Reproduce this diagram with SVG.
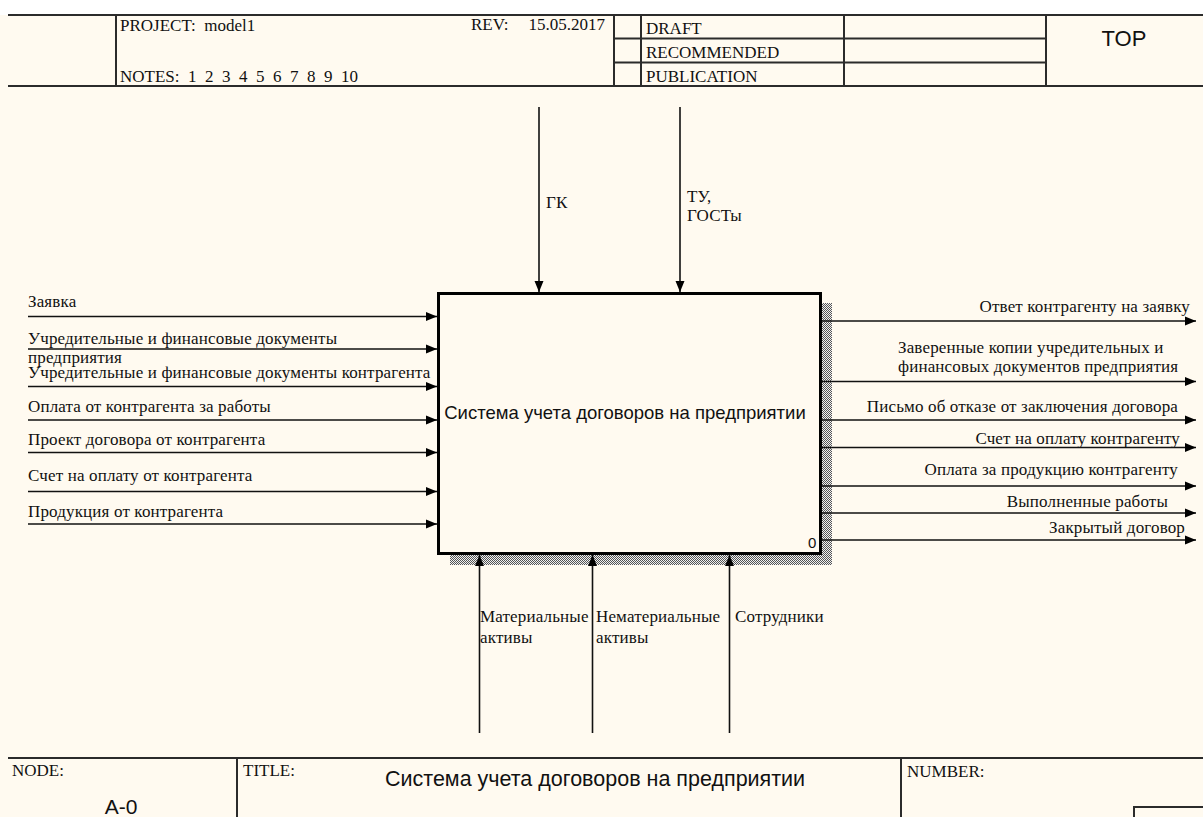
<svg xmlns="http://www.w3.org/2000/svg" width="1203" height="817" viewBox="0 0 1203 817">
  <style>
    .frame { stroke: #2b2b2b; stroke-width: 2; fill: none; }
    .hdr { font-family: "Liberation Serif", "Times New Roman", serif; font-size: 17px; fill: #111; white-space: pre; }
    .lbl { font-family: "Liberation Serif", "Times New Roman", serif; font-size: 17px; letter-spacing: 0.15px; fill: #111; }
    .sans { font-family: "Liberation Sans", Arial, sans-serif; fill: #111; }
    .arrow { stroke: #111; stroke-width: 1.6; fill: none; marker-end: url(#head); }
  </style>
  <defs>
    <marker id="head" markerUnits="userSpaceOnUse" markerWidth="12" markerHeight="10" refX="11" refY="5" orient="auto">
      <path d="M0,0.5 L11,5 L0,9.5 z" fill="#000"/>
    </marker>
    <pattern id="dither" width="2" height="2" patternUnits="userSpaceOnUse">
      <rect width="2" height="2" fill="#f0f0f0"/>
      <rect width="1" height="1" fill="#555"/>
      <rect x="1" y="1" width="1" height="1" fill="#555"/>
    </pattern>
  </defs>

  <!-- page -->
  <rect width="1203" height="817" fill="#ffffff"/>
  <rect x="0" y="15" width="1203" height="802" fill="#fffaf0"/>

  <!-- header block -->
  <g id="header">
    <line class="frame" x1="8" y1="15" x2="1203" y2="15"/>
    <line class="frame" x1="8" y1="86" x2="1203" y2="86"/>
    <line class="frame" x1="116" y1="15" x2="116" y2="86"/>
    <line class="frame" x1="614" y1="15" x2="614" y2="86"/>
    <line class="frame" x1="641" y1="15" x2="641" y2="86"/>
    <line class="frame" x1="844" y1="15" x2="844" y2="86"/>
    <line class="frame" x1="1046" y1="15" x2="1046" y2="86"/>
    <line class="frame" x1="614" y1="38.5" x2="1046" y2="38.5"/>
    <line class="frame" x1="614" y1="62.5" x2="1046" y2="62.5"/>
    <text class="hdr" x="120" y="31" xml:space="preserve">PROJECT:  model1</text>
    <text class="hdr" x="120" y="82" xml:space="preserve">NOTES:  1  2  3  4  5  6  7  8  9  10</text>
    <text class="hdr" x="471" y="30">REV:</text>
    <text class="hdr" x="605" y="30" text-anchor="end">15.05.2017</text>
    <text class="hdr" x="646" y="34">DRAFT</text>
    <text class="hdr" x="646" y="57.5">RECOMMENDED</text>
    <text class="hdr" x="646" y="81.5">PUBLICATION</text>
    <text class="sans" x="1124" y="46" font-size="22" text-anchor="middle">TOP</text>
  </g>

  <!-- activity box A0 -->
  <g id="node-a0">
    <rect x="822" y="303" width="10" height="262" fill="url(#dither)"/>
    <rect x="450" y="555" width="382" height="10" fill="url(#dither)"/>
    <rect x="438.5" y="293.5" width="382" height="260" fill="#fffaf0" stroke="#000" stroke-width="3"/>
    <text class="sans" x="625" y="419" font-size="18.5" text-anchor="middle">Система учета договоров на предприятии</text>
    <text class="sans" x="808" y="548" font-size="15">0</text>
  </g>

  <!-- arrows -->
  <g id="connectors">
    <!-- inputs -->
    <line class="arrow" x1="28" y1="316.5" x2="437" y2="316.5"/>
    <line class="arrow" x1="28" y1="349" x2="437" y2="349"/>
    <line class="arrow" x1="28" y1="386.5" x2="437" y2="386.5"/>
    <line class="arrow" x1="28" y1="420" x2="437" y2="420"/>
    <line class="arrow" x1="28" y1="452.5" x2="437" y2="452.5"/>
    <line class="arrow" x1="28" y1="491.5" x2="437" y2="491.5"/>
    <line class="arrow" x1="28" y1="524" x2="437" y2="524"/>
    <!-- controls -->
    <line class="arrow" x1="539" y1="107" x2="539" y2="292"/>
    <line class="arrow" x1="680" y1="107" x2="680" y2="292"/>
    <!-- outputs -->
    <line class="arrow" x1="822" y1="321" x2="1196" y2="321"/>
    <line class="arrow" x1="822" y1="381.5" x2="1196" y2="381.5"/>
    <line class="arrow" x1="822" y1="420" x2="1196" y2="420"/>
    <line class="arrow" x1="822" y1="447.5" x2="1196" y2="447.5"/>
    <line class="arrow" x1="822" y1="486" x2="1196" y2="486"/>
    <line class="arrow" x1="822" y1="513" x2="1196" y2="513"/>
    <line class="arrow" x1="822" y1="540" x2="1196" y2="540"/>
    <!-- mechanisms -->
    <line class="arrow" x1="479.5" y1="733" x2="479.5" y2="555"/>
    <line class="arrow" x1="592.5" y1="733" x2="592.5" y2="555"/>
    <line class="arrow" x1="729.5" y1="733" x2="729.5" y2="555"/>
  </g>

  <!-- arrow labels -->
  <g id="labels">
    <text class="lbl" x="28" y="306.5">Заявка</text>
    <text class="lbl" x="28" y="344">Учредительные и финансовые документы</text>
    <text class="lbl" x="28" y="362.5">предприятия</text>
    <text class="lbl" x="28" y="378">Учредительные и финансовые документы контрагента</text>
    <text class="lbl" x="28" y="411.5">Оплата от контрагента за работы</text>
    <text class="lbl" x="28" y="445">Проект договора от контрагента</text>
    <text class="lbl" x="28" y="481">Счет на оплату от контрагента</text>
    <text class="lbl" x="28" y="516.5">Продукция от контрагента</text>

    <text class="lbl" x="546" y="207.5">ГК</text>
    <text class="lbl" x="687" y="201.5">ТУ,</text>
    <text class="lbl" x="687" y="221">ГОСТы</text>

    <text class="lbl" x="1190" y="311.5" text-anchor="end">Ответ контрагенту на заявку</text>
    <text class="lbl" x="898" y="352.5">Заверенные копии учредительных и</text>
    <text class="lbl" x="898" y="371.5">финансовых документов предприятия</text>
    <text class="lbl" x="1178" y="411.5" text-anchor="end">Письмо об отказе от заключения договора</text>
    <text class="lbl" x="1180" y="444" text-anchor="end">Счет на оплату контрагенту</text>
    <text class="lbl" x="1178" y="475" text-anchor="end">Оплата за продукцию контрагенту</text>
    <text class="lbl" x="1168" y="507" text-anchor="end">Выполненные работы</text>
    <text class="lbl" x="1185" y="532.5" text-anchor="end">Закрытый договор</text>

    <text class="lbl" x="480" y="621.5">Материальные</text>
    <text class="lbl" x="480" y="642.5">активы</text>
    <text class="lbl" x="596" y="621.5">Нематериальные</text>
    <text class="lbl" x="596" y="642.5">активы</text>
    <text class="lbl" x="735" y="621.5">Сотрудники</text>
  </g>

  <!-- footer block -->
  <g id="footer">
    <line class="frame" x1="8" y1="758" x2="1203" y2="758"/>
    <line class="frame" x1="237" y1="758" x2="237" y2="817"/>
    <line class="frame" x1="901" y1="758" x2="901" y2="817"/>
    <rect class="frame" x="1134" y="807" width="80" height="20"/>
    <text class="hdr" x="12" y="776">NODE:</text>
    <text class="hdr" x="243" y="776">TITLE:</text>
    <text class="hdr" x="907" y="777">NUMBER:</text>
    <text class="sans" x="385" y="786" font-size="21.5">Система учета договоров на предприятии</text>
    <text class="sans" x="121" y="814" font-size="21" text-anchor="middle">A-0</text>
  </g>
</svg>
